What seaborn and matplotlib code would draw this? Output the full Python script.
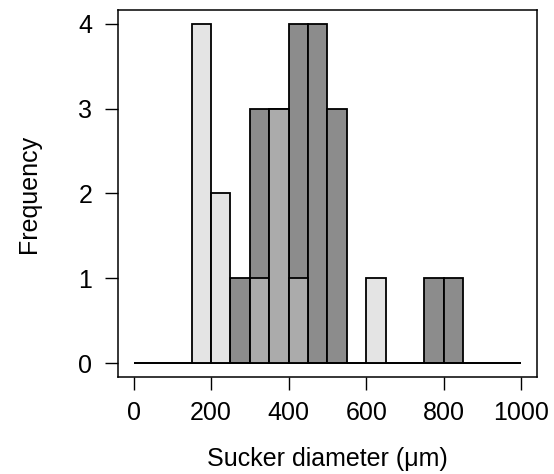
import numpy as np
import matplotlib
matplotlib.use("Agg")
import matplotlib.pyplot as plt
import seaborn as sns

# bin edges (um) and per-bin counts
bin_edges = list(range(0, 1001, 50))
bin_mids = [e + 25 for e in bin_edges[:-1]]
light_counts = [0, 0, 0, 4, 2, 0, 1, 3, 1, 0, 0, 0, 1, 0, 0, 0, 0, 0, 0, 0]
dark_counts = [0, 0, 0, 0, 0, 1, 3, 3, 4, 4, 3, 0, 0, 0, 0, 1, 1, 0, 0, 0]
x_ticks = [0, 200, 400, 600, 800, 1000]
y_ticks = [0, 1, 2, 3, 4]

sns.set_theme(style="ticks")
plt.rcParams['font.family'] = ['Liberation Sans', 'DejaVu Sans']

fig = plt.figure(figsize=(5.54, 4.74), dpi=100)
ax = fig.add_axes([0.213, 0.2046, 0.756, 0.7744])

# dark series, opaque
sns.histplot(x=bin_mids, weights=dark_counts, bins=bin_edges, ax=ax,
             color="#8c8c8c", edgecolor="black", linewidth=1.3, alpha=1)
n_dark = len(ax.patches)

# light series, semi-transparent fill on top
sns.histplot(x=bin_mids, weights=light_counts, bins=bin_edges, ax=ax,
             color="#cbcbcb", edgecolor="black", linewidth=1.3, alpha=1)
for p in ax.patches[n_dark:]:
    p.set_alpha(None)
    p.set_facecolor((0.796, 0.796, 0.796, 0.5))
    p.set_edgecolor((0, 0, 0, 1))

ax.set_xlim(-40, 1040)
ax.set_ylim(-0.16, 4.16)
ax.set_xticks(x_ticks)
ax.set_yticks(y_ticks)

for s in ax.spines.values():
    s.set_visible(True)
    s.set_color("black")
    s.set_linewidth(1.1)

ax.tick_params(axis="both", direction="out", length=9.5, width=1,
               color="black", labelcolor="black", labelsize=18)
ax.tick_params(axis="y", pad=9)
ax.tick_params(axis="x", pad=7.5)

ax.set_xlabel("Sucker diameter (\u03bcm)", fontsize=18, color="black", labelpad=16)
ax.set_ylabel("Frequency", fontsize=18, color="black", labelpad=27)

fig.savefig("out.png", dpi=100, facecolor="white")
